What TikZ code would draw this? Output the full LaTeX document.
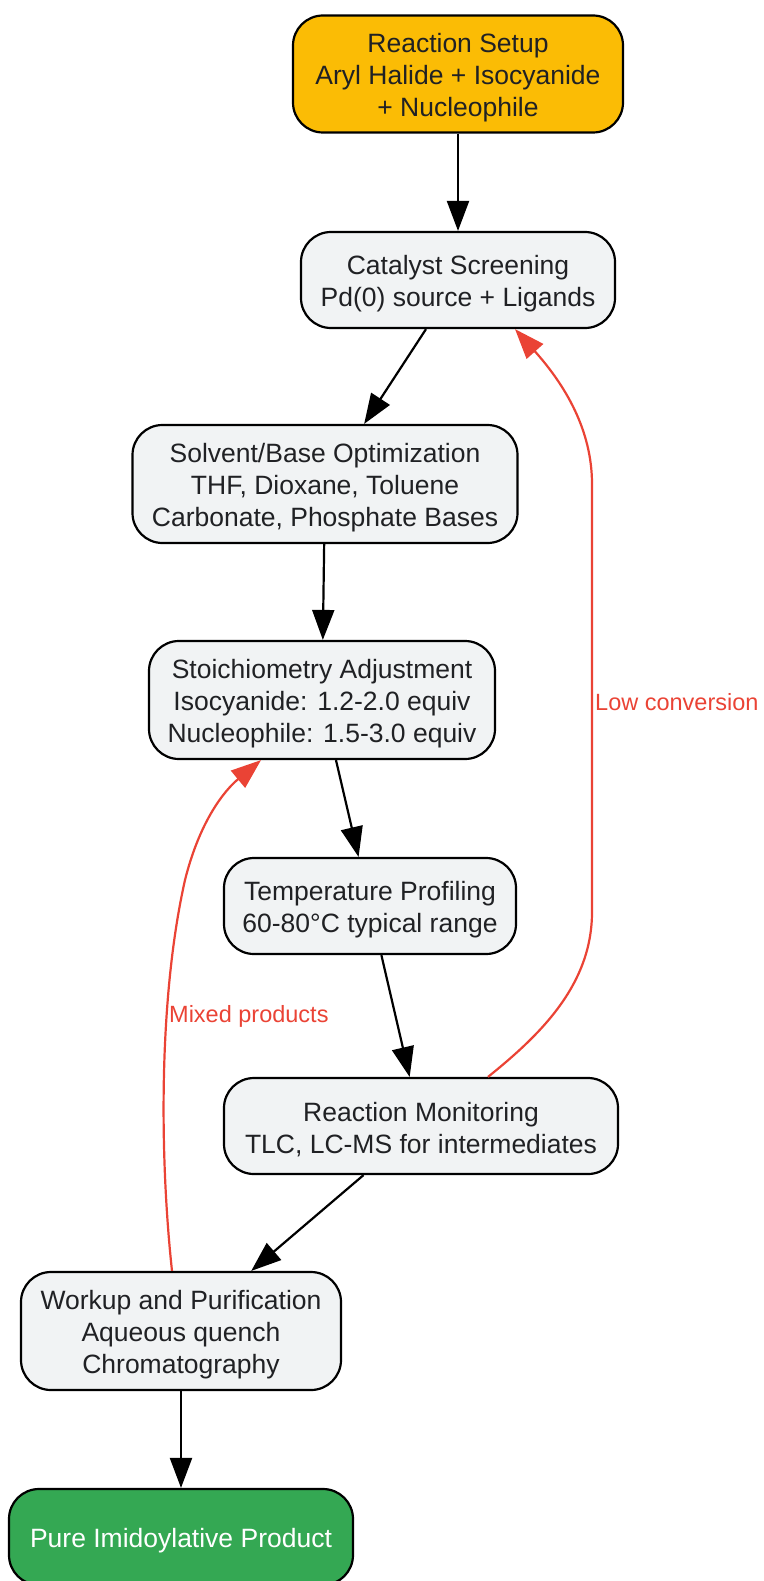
\documentclass[tikz,border=0pt]{standalone}
\usepackage{fontspec}
\setmainfont{Liberation Sans}
\usetikzlibrary{arrows.meta}
\definecolor{setupfill}{HTML}{FBBC05}
\definecolor{stepfill}{HTML}{F1F3F4}
\definecolor{prodfill}{HTML}{34A853}
\definecolor{loopred}{HTML}{EA4335}
\definecolor{txt}{HTML}{202124}
\newcommand{\mytopstrut}{\rule{0pt}{26.3pt}}
\tikzset{
  box/.style={draw=black, line width=2.2pt, rounded corners=30pt, inner sep=0pt,
    align=center, text=txt, font=\fontsize{26.5}{32}\selectfont},
  flow/.style={draw=black, line width=2.2pt, -{Triangle[length=30pt,width=22pt]}},
  back/.style={draw=loopred, line width=2.2pt, -{Triangle[length=30pt,width=22pt]}},
  lbl/.style={text=loopred, font=\fontsize{23.5}{28}\selectfont, inner sep=0pt, anchor=west}
}
\begin{document}
\begin{tikzpicture}[x=1pt,y=-1pt]
\useasboundingbox (0,0) rectangle (763,1581);
\node[box, fill=setupfill, minimum width=330pt, minimum height=117pt] (setup) at (458,74) {\mytopstrut Reaction Setup\\Aryl Halide + Isocyanide\\+ Nucleophile};
\node[box, fill=stepfill, minimum width=314pt, minimum height=96pt] (cat) at (458,280) {\mytopstrut Catalyst Screening\\Pd(0) source + Ligands};
\node[box, fill=stepfill, minimum width=385pt, minimum height=118pt] (solv) at (325,484) {\mytopstrut Solvent/Base Optimization\\THF, Dioxane, Toluene\\Carbonate, Phosphate Bases};
\node[box, fill=stepfill, minimum width=346pt, minimum height=118pt] (stoich) at (322,700) {\mytopstrut Stoichiometry Adjustment\\Isocyanide: 1.2-2.0 equiv\\Nucleophile: 1.5-3.0 equiv};
\node[box, fill=stepfill, minimum width=292pt, minimum height=96pt] (temp) at (370,906) {\mytopstrut Temperature Profiling\\60-80°C typical range};
\node[box, fill=stepfill, minimum width=394pt, minimum height=96pt] (mon) at (421,1126) {\mytopstrut Reaction Monitoring\\TLC, LC-MS for intermediates};
\node[box, fill=stepfill, minimum width=320pt, minimum height=118pt] (work) at (181,1331) {\mytopstrut Workup and Purification\\Aqueous quench\\Chromatography};
\node[box, fill=prodfill, text=white, minimum width=344pt, minimum height=96pt] (prod) at (181,1537) {\mytopstrut Pure Imidoylative Product};

\draw[flow] (setup) -- (cat);
\draw[flow] (cat) -- (solv);
\draw[flow] (solv) -- (stoich);
\draw[flow] (stoich) -- (temp);
\draw[flow] (temp) -- (mon);
\draw[flow] (mon) -- (work);
\draw[flow] (work) -- (prod);

\draw[back] ([xshift=67pt]mon.north) .. controls (540,1035) and (592,985) .. (592,912) -- (592,484) .. controls (592,430) and (565,385) .. ([xshift=57pt]cat.south);
\node[lbl] (lowc) at (595,702) {Low conversion};

\draw[back] ([xshift=-9pt]work.north) .. controls (160,1160) and (158,1000) .. (185,880) .. controls (200,820) and (225,790) .. ([xshift=-61pt]stoich.south);
\node[lbl] (mixp) at (169,1016) {Mixed products};
\end{tikzpicture}
\end{document}
